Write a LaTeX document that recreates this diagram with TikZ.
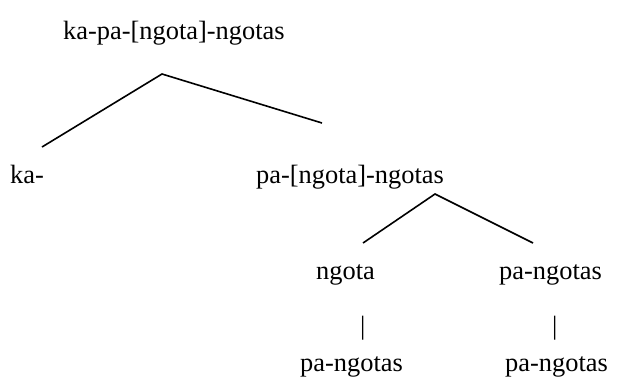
\documentclass[tikz,border=0pt]{standalone}
\usepackage{fontspec}
\setmainfont{Liberation Serif}
\begin{document}
\begin{tikzpicture}[x=1pt,y=-1pt,
  lbl/.style={anchor=base west,inner sep=0pt,font=\fontsize{26.4}{30}\selectfont},
  branch/.style={line width=1.6pt}]
\useasboundingbox (0,0) rectangle (631,378);
\node[lbl] (top) at (63,39) {ka-pa-[ngota]-ngotas};
\node[lbl] (ka) at (10,183) {ka-};
\node[lbl] (pa) at (256,183) {pa-[ngota]-ngotas};
\node[lbl] (ngota) at (316,279) {ngota};
\node[lbl] (pangotasR) at (499,279) {pa-ngotas};
\node[lbl] (barL) at (360,334) {|};
\node[lbl] (barR) at (552,334) {|};
\node[lbl] (botL) at (300,371) {pa-ngotas};
\node[lbl] (botR) at (505,371) {pa-ngotas};
\coordinate (a1) at (162,74);
\coordinate (l1) at (42,147);
\coordinate (r1) at (322,123);
\coordinate (a2) at (435,194);
\coordinate (l2) at (363,243);
\coordinate (r2) at (533,243);
\draw[branch] (l1) -- (a1) -- (r1);
\draw[branch] (l2) -- (a2) -- (r2);
\end{tikzpicture}
\end{document}
